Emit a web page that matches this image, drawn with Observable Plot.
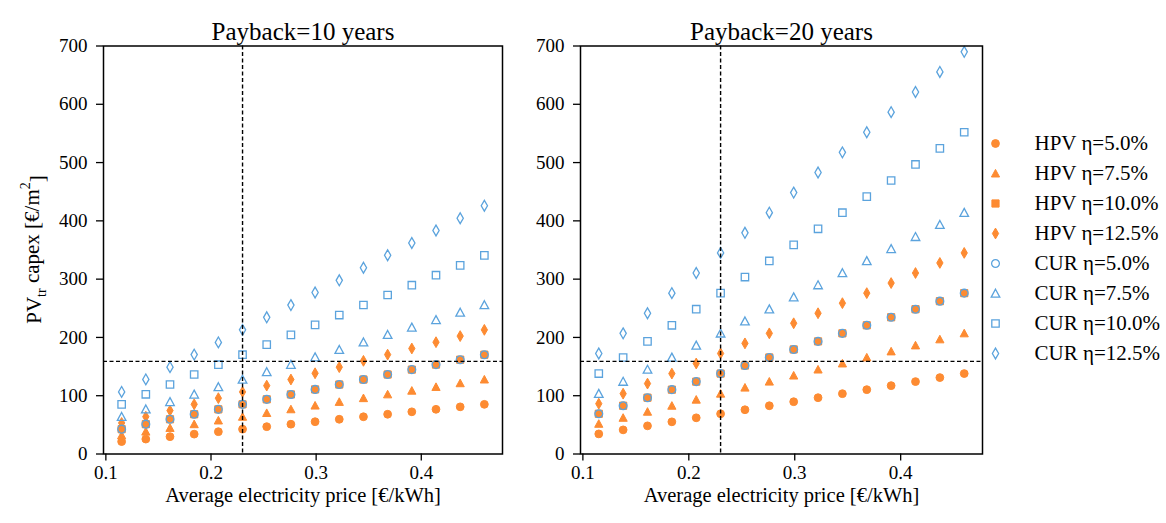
<!DOCTYPE html>
<html>
<head>
<meta charset="utf-8">
<script src="https://cdn.jsdelivr.net/npm/d3@7"></script>
<script src="https://cdn.jsdelivr.net/npm/@observablehq/plot@0.6"></script>
<style>
  body { margin: 0; background: #fff; }
  #chart { position: relative; width: 1166px; height: 523px; background: #fff; overflow: hidden; }
  #chart > svg { position: absolute; top: 0; }
</style>
</head>
<body>
<div id="chart"></div>
<script>
// Average electricity price [€/kWh]
const price = [0.115, 0.138, 0.161, 0.184, 0.207, 0.230, 0.253, 0.276, 0.299, 0.322, 0.345, 0.368, 0.391, 0.414, 0.437, 0.460];

// Series names (legend order)
const seriesNames = ["HPV η=5.0%", "HPV η=7.5%", "HPV η=10.0%", "HPV η=12.5%",
                     "CUR η=5.0%", "CUR η=7.5%", "CUR η=10.0%", "CUR η=12.5%"];

// Payback = 10 years, PV_tr capex [€/m²]
const p10_hpv5  = [21.3, 25.6, 29.8, 34.1, 38.3, 42.6, 46.9, 51.1, 55.4, 59.6, 63.9, 68.2, 72.4, 76.7, 80.9, 85.2];
const p10_hpv75 = [32.0, 38.4, 44.7, 51.1, 57.5, 63.9, 70.3, 76.7, 83.1, 89.4, 95.8, 102.3, 108.6, 115.0, 121.4, 127.8];
const p10_hpv10 = [42.6, 51.2, 59.6, 68.2, 76.6, 85.2, 93.8, 102.2, 110.8, 119.2, 127.8, 136.4, 144.8, 153.4, 161.8, 170.4];
const p10_hpv125 = [53.3, 64.0, 74.5, 85.3, 95.8, 106.5, 117.3, 127.8, 138.5, 149.0, 159.8, 170.5, 181.0, 191.8, 202.3, 213.0];
const p10_cur5  = [42.6, 51.2, 59.6, 68.2, 76.6, 85.2, 93.8, 102.2, 110.8, 119.2, 127.8, 136.4, 144.8, 153.4, 161.8, 170.4];
const p10_cur75 = [63.9, 76.8, 89.4, 102.3, 114.9, 127.8, 140.7, 153.3, 166.2, 178.8, 191.7, 204.6, 217.2, 230.1, 242.7, 255.6];
const p10_cur10 = [85.2, 102.4, 119.2, 136.4, 153.2, 170.4, 187.6, 204.4, 221.6, 238.4, 255.6, 272.8, 289.6, 306.8, 323.6, 340.8];
const p10_cur125 = [106.5, 128.0, 149.0, 170.5, 191.5, 213.0, 234.5, 255.5, 277.0, 298.0, 319.5, 341.0, 362.0, 383.5, 404.5, 426.0];

// Payback = 20 years, PV_tr capex [€/m²]
const p20_hpv5  = [34.5, 41.4, 48.3, 55.2, 62.1, 69.0, 75.9, 82.8, 89.7, 96.6, 103.5, 110.4, 117.3, 124.2, 131.1, 138.0];
const p20_hpv75 = [51.8, 62.1, 72.5, 82.8, 93.2, 103.5, 113.9, 124.2, 134.6, 144.9, 155.3, 165.6, 176.0, 186.3, 196.7, 207.0];
const p20_hpv10 = [69.0, 82.8, 96.6, 110.4, 124.2, 138.0, 151.8, 165.6, 179.4, 193.2, 207.0, 220.8, 234.6, 248.4, 262.2, 276.0];
const p20_hpv125 = [86.3, 103.5, 120.8, 138.0, 155.3, 172.5, 189.8, 207.0, 224.3, 241.5, 258.8, 276.0, 293.3, 310.5, 327.8, 345.0];
const p20_cur5  = [69.0, 82.8, 96.6, 110.4, 124.2, 138.0, 151.8, 165.6, 179.4, 193.2, 207.0, 220.8, 234.6, 248.4, 262.2, 276.0];
const p20_cur75 = [103.5, 124.2, 144.9, 165.6, 186.3, 207.0, 227.7, 248.4, 269.1, 289.8, 310.5, 331.2, 351.9, 372.6, 393.3, 414.0];
const p20_cur10 = [138.0, 165.6, 193.2, 220.8, 248.4, 276.0, 303.6, 331.2, 358.8, 386.4, 414.0, 441.6, 469.2, 496.8, 524.4, 552.0];
const p20_cur125 = [172.5, 207.0, 241.5, 276.0, 310.5, 345.0, 379.5, 414.0, 448.5, 483.0, 517.5, 552.0, 586.5, 621.0, 655.5, 690.0];

// Reference lines: current average price and break-even capex
const refPrice = 0.23;
const refCapex = 159;

const xTicks = [0.1, 0.2, 0.3, 0.4];
const yTicks = [0, 100, 200, 300, 400, 500, 600, 700];

// ---- marker shapes (size = π r², as Plot passes it) ----
const rad = (size) => Math.sqrt(size / Math.PI);
const circleSym = {draw(ctx, size) { const r = rad(size); ctx.moveTo(r, 0); ctx.arc(0, 0, r, 0, 2 * Math.PI); ctx.closePath(); }};
const triangleSym = {draw(ctx, size) { const r = rad(size); ctx.moveTo(0, -r); ctx.lineTo(r, r * 0.85); ctx.lineTo(-r, r * 0.85); ctx.closePath(); }};
const squareSym = {draw(ctx, size) { const r = rad(size); ctx.rect(-r, -r, 2 * r, 2 * r); }};
const thinDiamondSym = {draw(ctx, size) { const r = rad(size); ctx.moveTo(0, -r); ctx.lineTo(r * 0.58, 0); ctx.lineTo(0, r); ctx.lineTo(-r * 0.58, 0); ctx.closePath(); }};

const ORANGE = "#fd8b32";
const BLUE = "#5ba3dd";

const styles = [
  {symbol: circleSym, r: 3.9, filled: true},
  {symbol: triangleSym, r: 4.1, filled: true},
  {symbol: squareSym, r: 3.6, filled: true},
  {symbol: thinDiamondSym, r: 5.4, filled: true},
  {symbol: circleSym, r: 3.9, filled: false},
  {symbol: triangleSym, r: 4.3, filled: false},
  {symbol: squareSym, r: 3.7, filled: false},
  {symbol: thinDiamondSym, r: 5.4, filled: false}
];

function dotOptions(st) {
  return st.filled
    ? {x: "x", y: "y", symbol: st.symbol, r: st.r, fill: ORANGE, stroke: ORANGE, strokeWidth: 1}
    : {x: "x", y: "y", symbol: st.symbol, r: st.r, fill: "none", stroke: BLUE, strokeWidth: 1.3};
}

const FONT = "'Liberation Serif', 'DejaVu Serif', serif";
const fmtX = d3.format(".1f");

function panel({title, series, left, width, marginLeft, marginRight, yLabel}) {
  const marks = [];
  series.forEach((vals, k) => {
    const rows = vals.map((v, i) => ({x: price[i], y: v}));
    marks.push(Plot.dot(rows, dotOptions(styles[k])));
  });
  marks.push(
    Plot.ruleX([refPrice], {stroke: "black", strokeWidth: 1.4, strokeDasharray: "4,2.5"}),
    Plot.ruleY([refCapex], {stroke: "black", strokeWidth: 1.4, strokeDasharray: "4,2.5"}),
    Plot.frame({stroke: "black", strokeWidth: 1.5}),
    Plot.axisX({ticks: xTicks, tickFormat: fmtX, tickSize: 7, tickPadding: 4, strokeWidth: 1.3, label: null, fontSize: 19}),
    Plot.axisY({ticks: yTicks, tickSize: 7, tickPadding: 9, strokeWidth: 1.3, label: null, fontSize: 19}),
    Plot.text([title], {frameAnchor: "top", dy: -24, fontSize: 25, fill: "black"}),
    Plot.text(["Average electricity price [€/kWh]"], {frameAnchor: "bottom", dy: 48, fontSize: 20.5, fill: "black"})
  );
  const svg = Plot.plot({
    width, height: 523,
    marginTop: 45.5, marginBottom: 69.5, marginLeft, marginRight,
    x: {domain: [0.09775, 0.47725]},
    y: {domain: [0, 700]},
    style: {fontFamily: FONT, fontSize: "19px", color: "black", background: "transparent", overflow: "visible"},
    marks
  });
  svg.style.left = left + "px";
  if (yLabel) {
    const t = d3.select(svg).append("text")
      .attr("transform", "translate(34,249.5) rotate(-90)")
      .attr("text-anchor", "middle")
      .attr("dy", "0.35em")
      .attr("font-family", FONT)
      .attr("font-size", 21)
      .attr("fill", "black");
    t.append("tspan").text("PV");
    t.append("tspan").attr("dy", "0.3em").attr("font-size", 14).text("tr");
    t.append("tspan").attr("dy", "-0.3em").text(" capex [€/m");
    t.append("tspan").attr("dy", "-0.65em").attr("font-size", 14).text("2");
    t.append("tspan").attr("dy", "0.65em").text("]");
  }
  return svg;
}

const chart = document.getElementById("chart");

chart.appendChild(panel({
  title: "Payback=10 years",
  series: [p10_hpv5, p10_hpv75, p10_hpv10, p10_hpv125, p10_cur5, p10_cur75, p10_cur10, p10_cur125],
  left: 0, width: 520, marginLeft: 103, marginRight: 18, yLabel: true
}));

chart.appendChild(panel({
  title: "Payback=20 years",
  series: [p20_hpv5, p20_hpv75, p20_hpv10, p20_hpv125, p20_cur5, p20_cur75, p20_cur10, p20_cur125],
  left: 520, width: 464, marginLeft: 60, marginRight: 2, yLabel: false
}));

// Legend: one row per series, markers then labels
const legendMarks = [];
seriesNames.forEach((name, k) => {
  legendMarks.push(Plot.dot([name], {...dotOptions(styles[k]), x: null, y: (d) => d, frameAnchor: "left", dx: 13}));
});
legendMarks.push(Plot.text(seriesNames, {y: (d) => d, text: (d) => d, frameAnchor: "left", dx: 52, textAnchor: "start", fontSize: 21, fill: "black"}));
const legend = Plot.plot({
  width: 184, height: 523,
  margin: 0,
  y: {type: "point", domain: seriesNames, range: [141, 355], padding: 0, axis: null},
  style: {fontFamily: FONT, color: "black", background: "transparent", overflow: "visible"},
  marks: legendMarks
});
legend.style.left = "982px";
chart.appendChild(legend);
</script>
</body>
</html>
